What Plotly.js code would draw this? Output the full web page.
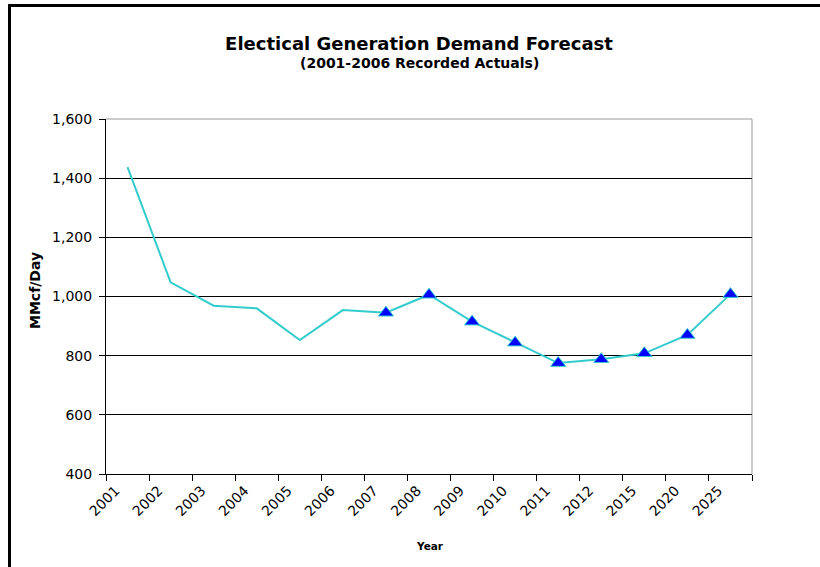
<!DOCTYPE html>
<html>
<head>
<meta charset="utf-8">
<script src="https://cdn.plot.ly/plotly-3.0.1.min.js"></script>
<style>
  html, body { margin: 0; padding: 0; background: #ffffff; }
  #chart { width: 820px; height: 567px; position: absolute; left: 0; top: 0; }
  #frame { position: absolute; left: 8px; top: 4px; width: 900px; height: 700px;
           border-left: 3px solid #000; border-top: 3px solid #000; pointer-events: none; }
</style>
</head>
<body>
<div id="chart"></div>
<div id="frame"></div>
<script>
// Categories (years) and series values (MMcf/Day)
const years = ["2001","2002","2003","2004","2005","2006","2007","2008","2009","2010","2011","2012","2015","2020","2025"];
const demand = [1437, 1048, 969, 960, 853, 954, 945, 1006, 915, 844, 775, 788, 808, 870, 1008];
// Forecast years (marked with triangles)
const forecastYears = ["2007","2008","2009","2010","2011","2012","2015","2020","2025"];
const yTicks = [400, 600, 800, 1000, 1200, 1400, 1600];

const forecastVals = forecastYears.map(y => demand[years.indexOf(y)]);

const font = "DejaVu Sans, Arial, sans-serif";

const traces = [
  {
    type: "scatter", mode: "lines",
    x: years, y: demand,
    line: { color: "#33CCCC", width: 2 },
    hoverinfo: "x+y", showlegend: false
  },
  {
    type: "scatter", mode: "markers",
    x: forecastYears, y: forecastVals,
    marker: { symbol: "triangle-up", size: 13, color: "#0000FF",
              line: { color: "#33CCCC", width: 1 } },
    hoverinfo: "x+y", showlegend: false
  }
];

const layout = {
  width: 820, height: 567,
  margin: { l: 106, r: 68, t: 119, b: 93 },
  paper_bgcolor: "#ffffff", plot_bgcolor: "#ffffff",
  font: { family: font, color: "#000000" },
  showlegend: false,
  title: {
    text: "<b>Electical Generation Demand Forecast</b>",
    font: { family: font, size: 18, color: "#000" },
    xref: "container", yref: "container",
    x: 419 / 820, xanchor: "center",
    y: 1 - 44 / 567, yanchor: "middle"
  },
  xaxis: {
    type: "category",
    categoryorder: "array", categoryarray: years,
    tickson: "boundaries",
    ticks: "outside", ticklen: 6, tickcolor: "#000", tickwidth: 1,
    showline: true, linecolor: "#000", linewidth: 1,
    showgrid: false, zeroline: false,
    tickangle: -45,
    ticklabelshift: -12,
    ticklabelstandoff: 2,
    tickfont: { family: font, size: 14, color: "#000" },
    range: [-0.5, years.length - 0.5]
  },
  yaxis: {
    range: [400, 1600],
    tickmode: "array", tickvals: yTicks,
    tickformat: ",d",
    ticks: "outside", ticklen: 6, tickcolor: "#000", tickwidth: 1,
    showline: true, linecolor: "#000", linewidth: 1,
    showgrid: true, gridcolor: "#000", gridwidth: 1,
    zeroline: false,
    ticklabelstandoff: 4,
    tickfont: { family: font, size: 14, color: "#000" }
  },
  shapes: [
    { type: "line", xref: "paper", yref: "paper", x0: 0, x1: 1, y0: 1, y1: 1,
      line: { color: "#999999", width: 1 }, layer: "between" },
    { type: "line", xref: "paper", yref: "paper", x0: 1, x1: 1, y0: 0, y1: 1,
      line: { color: "#999999", width: 1 }, layer: "between" }
  ],
  annotations: [
    { text: "<b>(2001-2006 Recorded Actuals)</b>", xref: "paper", yref: "paper",
      x: (419 - 106) / 646, y: 1 + (119 - 63) / 355, xanchor: "center", yanchor: "middle",
      showarrow: false, font: { family: font, size: 14, color: "#000" } },
    { text: "<b>MMcf/Day</b>", xref: "paper", yref: "paper",
      x: (35 - 106) / 646, y: 1 - (291 - 119) / 355, xanchor: "center", yanchor: "middle",
      textangle: -90, showarrow: false, font: { family: font, size: 14, color: "#000" } },
    { text: "<b>Year</b>", xref: "paper", yref: "paper",
      x: (430 - 106) / 646, y: -(546 - 474) / 355, xanchor: "center", yanchor: "middle",
      showarrow: false, font: { family: font, size: 10.5, color: "#000" } }
  ]
};

Plotly.newPlot("chart", traces, layout, { displayModeBar: false, staticPlot: true });
</script>
</body>
</html>
